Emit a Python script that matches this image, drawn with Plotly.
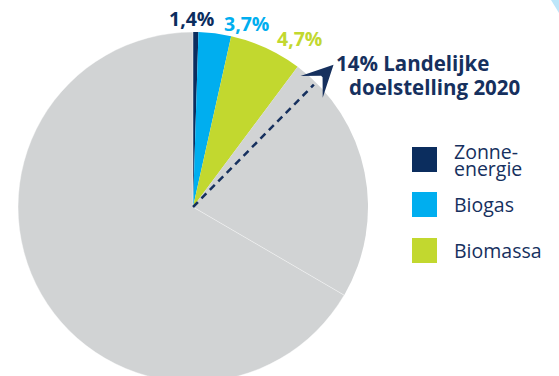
import math
import plotly.graph_objects as go

W, H = 559, 384

# Data (slice shares as drawn in the picture, printed labels as shown)
categories = ["Zonne-energie", "Biogas", "Biomassa", "Overig A", "Overig B"]
slice_share = [0.5, 3.0, 6.7, 23.2, 66.6]
slice_colors = ["#0b2d5e", "#00aeef", "#c2d82f", "#d1d3d4", "#d1d3d4"]
label_text = ["1,4%", "3,7%", "4,7%"]
target_text = ["14% Landelijke", "doelstelling 2020"]
target_share = 12.4  # direction of the dashed target arrow (share of circle)
legend_items = [["Zonne-", "energie"], ["Biogas"], ["Biomassa"]]
legend_colors = slice_colors[:3]

NAVY = "#16305e"
FONT = "Open Sans"

def px(x):
    return x / W

def py(y):
    return 1 - y / H

cx, cy, r = 193, 207, 175

fig = go.Figure()
fig.add_trace(go.Pie(
    values=slice_share,
    labels=categories,
    sort=False,
    direction="clockwise",
    rotation=0,
    textinfo="none",
    hoverinfo="skip",
    showlegend=False,
    marker=dict(colors=slice_colors,
                line=dict(color=["rgba(0,0,0,0)"] * 4 + ["rgba(255,255,255,0.55)"],
                          width=[0, 0, 0, 0, 0.8])),
    domain=dict(x=[px(cx - r), px(cx + r)], y=[(H - cy - r) / H, (H - cy + r) / H]),
))

annotations = []
# percentage labels
label_pos = [(191, 18), (246, 23), (299, 38.5)]
for t, c, (x, y) in zip(label_text, slice_colors[:3], label_pos):
    annotations.append(dict(x=px(x), y=py(y), xref="paper", yref="paper", text=f"<b>{t}</b>",
                            showarrow=False, xanchor="center", yanchor="middle",
                            font=dict(family=FONT, size=19.5, color=c)))
# target text
for t, (x, y) in zip(target_text, [(334, 63), (347, 87)]):
    annotations.append(dict(x=px(x), y=py(y), xref="paper", yref="paper", text=f"<b>{t}</b>",
                            showarrow=False, xanchor="left", yanchor="middle",
                            font=dict(family=FONT, size=20.5, color=NAVY)))

# dashed target line + arrow head
ang = math.radians(target_share / 100 * 360)
ux, uy = math.sin(ang), -math.cos(ang)
shapes = []
L_dash = 172
shapes.append(dict(type="line", xref="paper", yref="paper",
                   x0=px(cx), y0=py(cy), x1=px(cx + ux * L_dash), y1=py(cy + uy * L_dash),
                   line=dict(color=NAVY, width=2.5, dash="7px,5px")))
L_tip = 200
annotations.append(dict(x=px(cx + ux * L_tip), y=py(cy + uy * L_tip), xref="paper", yref="paper",
                        text="", showarrow=True, arrowhead=3, arrowsize=2.6, arrowwidth=2,
                        arrowcolor=NAVY, ax=-ux * 18, ay=-uy * 18, standoff=0))

# legend
leg_top = [147, 192, 238]
for items, col, top in zip(legend_items, legend_colors, leg_top):
    shapes.append(dict(type="rect", xref="paper", yref="paper",
                       x0=px(412), x1=px(437), y0=py(top), y1=py(top + 25),
                       fillcolor=col, line=dict(width=0)))
    if len(items) == 2:
        ys = [top + 4, top + 21]
    else:
        ys = [top + 12]
    for t, y in zip(items, ys):
        annotations.append(dict(x=px(452), y=py(y), xref="paper", yref="paper", text=t,
                                showarrow=False, xanchor="left", yanchor="middle",
                                font=dict(family=FONT, size=19.5, color=NAVY)))

# small decorative corner
shapes.append(dict(type="path", xref="paper", yref="paper",
                   path=f"M {px(551)} {py(0)} L {px(559)} {py(0)} L {px(559)} {py(13)} Z",
                   fillcolor="#bde6fa", line=dict(width=0)))

fig.update_layout(width=W, height=H, margin=dict(l=0, r=0, t=0, b=0),
                  paper_bgcolor="white", plot_bgcolor="white",
                  annotations=annotations, shapes=shapes)

fig.write_html("out.html",
               post_script="document.body.style.margin='0';document.body.style.overflow='hidden';document.documentElement.style.overflow='hidden';")
